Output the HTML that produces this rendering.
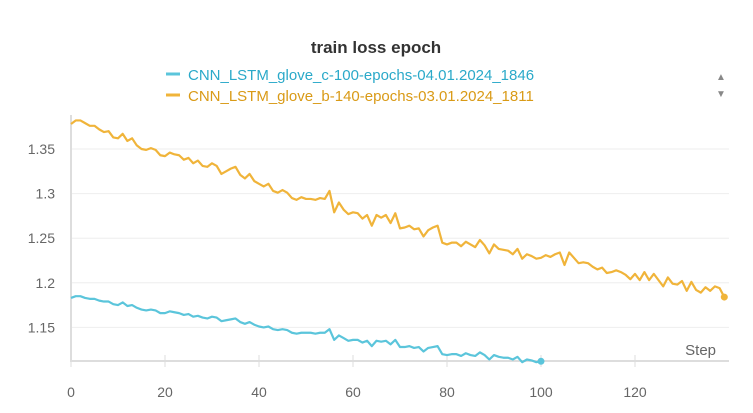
<!DOCTYPE html>
<html><head><meta charset="utf-8"><style>
body{margin:0;background:#fff;font-family:"Liberation Sans",sans-serif;}
svg{display:block}
</style></head><body>
<svg id="chart" width="753" height="413">
<text x="376" y="53" text-anchor="middle" font-size="17" font-weight="bold" fill="#333">train loss epoch</text>
<g>
<line x1="166" y1="74" x2="180" y2="74" stroke="#5bc5db" stroke-width="3"/>
<text x="188" y="80" font-size="15" fill="#2aa9c9">CNN_LSTM_glove_c-100-epochs-04.01.2024_1846</text></g>
<g>
<line x1="166" y1="95" x2="180" y2="95" stroke="#f0b43a" stroke-width="3"/>
<text x="188" y="101" font-size="15" fill="#d99a16">CNN_LSTM_glove_b-140-epochs-03.01.2024_1811</text></g>
<text x="721" y="80" font-size="10" fill="#888" text-anchor="middle">▲</text>
<text x="721" y="97" font-size="10" fill="#888" text-anchor="middle">▼</text>
<g id="grid"></g><g id="axes"></g><g id="series"></g>
<text x="716" y="355" text-anchor="end" font-size="15" fill="#666">Step</text>
</svg>
<script>
const xTicks=[0,20,40,60,80,100,120];
const yTicks=[1.15,1.2,1.25,1.3,1.35];
const yTickLabels=["1.15","1.2","1.25","1.3","1.35"];
const seriesB=[1.378,1.382,1.382,1.379,1.376,1.376,1.372,1.369,1.370,1.363,1.362,1.367,1.359,1.362,1.354,1.350,1.349,1.351,1.349,1.343,1.342,1.346,1.344,1.343,1.338,1.340,1.334,1.337,1.331,1.330,1.334,1.331,1.322,1.325,1.328,1.330,1.321,1.317,1.322,1.314,1.311,1.308,1.311,1.303,1.301,1.304,1.301,1.295,1.293,1.296,1.294,1.294,1.293,1.295,1.294,1.303,1.279,1.290,1.282,1.277,1.279,1.278,1.272,1.276,1.264,1.276,1.273,1.276,1.267,1.278,1.261,1.262,1.264,1.260,1.261,1.252,1.259,1.262,1.264,1.245,1.243,1.245,1.245,1.241,1.246,1.243,1.240,1.248,1.242,1.233,1.243,1.238,1.237,1.236,1.232,1.238,1.227,1.232,1.230,1.227,1.228,1.231,1.229,1.232,1.234,1.220,1.234,1.228,1.222,1.223,1.222,1.218,1.215,1.217,1.211,1.212,1.214,1.212,1.209,1.204,1.210,1.203,1.212,1.203,1.210,1.203,1.196,1.206,1.199,1.198,1.202,1.191,1.201,1.192,1.189,1.195,1.191,1.196,1.194,1.184];
const seriesC=[1.183,1.185,1.185,1.183,1.182,1.182,1.180,1.179,1.179,1.176,1.175,1.178,1.174,1.175,1.172,1.170,1.169,1.170,1.169,1.166,1.166,1.168,1.167,1.166,1.164,1.165,1.162,1.163,1.161,1.160,1.162,1.161,1.157,1.158,1.159,1.160,1.156,1.154,1.156,1.153,1.151,1.150,1.151,1.148,1.147,1.148,1.147,1.144,1.143,1.144,1.144,1.144,1.143,1.144,1.144,1.148,1.136,1.141,1.138,1.135,1.136,1.136,1.133,1.135,1.129,1.135,1.134,1.135,1.131,1.136,1.128,1.128,1.129,1.127,1.128,1.123,1.127,1.128,1.129,1.120,1.119,1.120,1.120,1.118,1.121,1.119,1.118,1.122,1.119,1.114,1.119,1.117,1.116,1.116,1.114,1.117,1.111,1.114,1.113,1.111,1.112];
const X=s=>71+s*4.7, Y=v=>149+(1.35-v)*892;
const NS="http://www.w3.org/2000/svg";
function mk(tag,attrs,parent){const e=document.createElementNS(NS,tag);for(const k in attrs)e.setAttribute(k,attrs[k]);parent.appendChild(e);return e;}
const grid=document.getElementById('grid'),axes=document.getElementById('axes'),ser=document.getElementById('series');
yTicks.forEach((t,i)=>{
 const l=mk('line',{x1:71,x2:729,y1:Y(t),y2:Y(t),stroke:'#eee','stroke-width':1},grid);
 
 
 const tx=mk('text',{x:55,y:Y(t)+5,'text-anchor':'end','font-size':14,fill:'#666'},axes);
 tx.textContent=yTickLabels[i];
 
 
});
const yl=mk('line',{x1:71,x2:71,y1:115,y2:362,stroke:'#ddd','stroke-width':2},axes);


const xl=mk('line',{x1:71,x2:729,y1:361,y2:361,stroke:'#ddd','stroke-width':2},axes);


xTicks.forEach(t=>{
 const tk=mk('line',{x1:X(t),x2:X(t),y1:355,y2:367,stroke:'#ddd','stroke-width':1},axes);
 
 
 const tx=mk('text',{x:X(t),y:397,'text-anchor':'middle','font-size':14,fill:'#666'},axes);
 tx.textContent=t;
 
 
});
function draw(data,color,name){
 const p=mk('polyline',{points:data.map((v,i)=>X(i)+','+Y(v)).join(' '),fill:'none',stroke:color,'stroke-width':2.2,'stroke-linejoin':'round'},ser);
 
 
 const n=data.length-1;
 const c=mk('circle',{cx:X(n),cy:Y(data[n]),r:3.5,fill:color},ser);
 
 
}
draw(seriesB,'#f0b43a','series-glove-b-line');
draw(seriesC,'#5bc5db','series-glove-c-line');
</script>
</body></html>
